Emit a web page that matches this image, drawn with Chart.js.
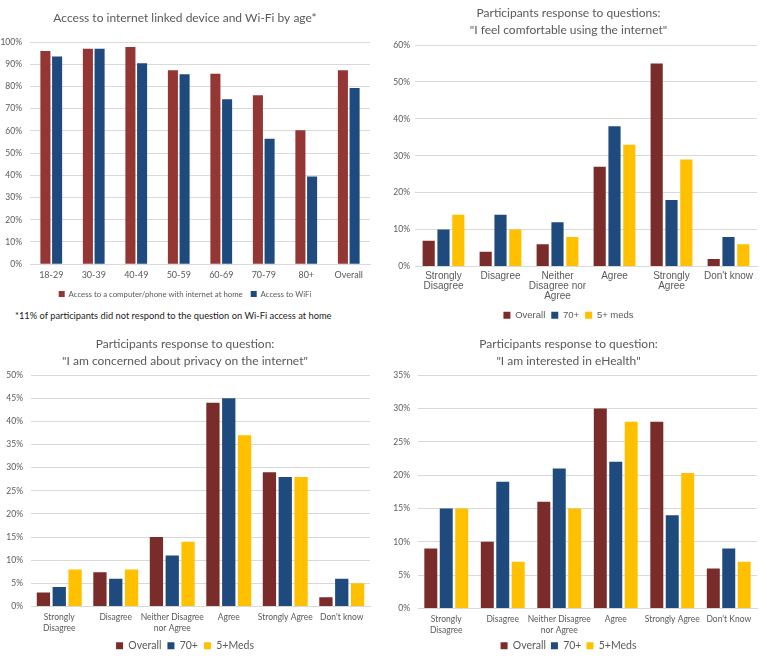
<!DOCTYPE html>
<html>
<head>
<meta charset="utf-8">
<script src="https://cdn.jsdelivr.net/npm/chart.js@4.4.1/dist/chart.umd.min.js"></script>
<style>
  body { margin: 0; background: #fff; width: 767px; height: 661px; position: relative; overflow: hidden; }
  .panel { position: absolute; }
  #footnote { position: absolute; left: 15px; top: 310px; font-family: Lato, sans-serif; font-size: 9.3px; color: #1a1a1a; white-space: nowrap; }
</style>
</head>
<body>
<div class="panel" style="left:0;top:0;width:380px;height:308px"><canvas id="ageChart"></canvas></div>
<div class="panel" style="left:380px;top:0;width:387px;height:330px"><canvas id="comfortChart"></canvas></div>
<div class="panel" style="left:0;top:330px;width:380px;height:331px"><canvas id="privacyChart"></canvas></div>
<div class="panel" style="left:380px;top:330px;width:387px;height:331px"><canvas id="ehealthChart"></canvas></div>
<div id="footnote">*11% of participants did not respond to the question on Wi-Fi access at home</div>

<script>
// ================== DATA ===================
const ageGroups = ["18-29", "30-39", "40-49", "50-59", "60-69", "70-79", "80+", "Overall"];
const deviceAtHome = [96, 97, 97.8, 87.3, 85.7, 76, 60.3, 87.3];
const wifiAccess = [93.5, 97, 90.5, 85.5, 74.2, 56.5, 39.5, 79.3];

const comfortLabels = [["Strongly", "Disagree"], "Disagree", ["Neither", "Disagree nor", "Agree"], "Agree", ["Strongly", "Agree"], "Don't know"];
const comfortOverall = [7, 4, 6, 27, 55, 2];
const comfort70 = [10, 14, 12, 38, 18, 8];
const comfortMeds = [14, 10, 8, 33, 29, 6];

const privacyLabels = [["Strongly", "Disagree"], "Disagree", ["Neither Disagree", "nor Agree"], "Agree", "Strongly Agree", "Don't know"];
const privacyOverall = [3, 7.4, 15, 44, 29, 2];
const privacy70 = [4.2, 6, 11, 45, 28, 6];
const privacyMeds = [8, 8, 14, 37, 28, 5];

const ehealthLabels = [["Strongly", "Disagree"], "Disagree", ["Neither Disagree", "nor Agree"], "Agree", "Strongly Agree", "Don't Know"];
const ehealthOverall = [9, 10, 16, 30, 28, 6];
const ehealth70 = [15, 19, 21, 22, 14, 9];
const ehealthMeds = [15, 7, 15, 28, 20.3, 7];

const RED = "#7a2c2b";
const RED_LIGHT = "#943634";
const BLUE = "#1f4a7d";
const YELLOW = "#ffc000";
const TEXT = "#595959";
const GRID = "#d9d9d9";

// ================== CHART BUILDER ===================
function renderBarChart(canvasId, cfg) {
  const ctx = document.getElementById(canvasId).getContext("2d");

  new Chart(ctx, {
    type: "bar",
    data: { labels: cfg.labels, datasets: cfg.datasets },
    options: {
      responsive: true,
      maintainAspectRatio: false,
      animation: false,
      layout: { padding: { left: 0, right: 10, top: 0, bottom: 0 } },
      datasets: { bar: { categoryPercentage: cfg.catPct, barPercentage: cfg.barPct } },
      scales: {
        x: {
          grid: { display: false, drawTicks: false },
          border: { color: GRID },
          ticks: { color: TEXT, font: cfg.xFont, maxRotation: 0, autoSkip: false, padding: cfg.xPad },
          afterFit: s => { s.height = cfg.xHeight; }
        },
        y: {
          min: 0,
          max: cfg.max,
          grid: { color: GRID, drawTicks: false },
          border: { display: false },
          ticks: {
            stepSize: cfg.step,
            color: TEXT,
            font: { family: "Lato", size: 8.5 },
            padding: cfg.yPad,
            callback: v => v + "%"
          },
          afterFit: s => { s.width = cfg.yWidth; }
        }
      },
      plugins: {
        tooltip: { enabled: false },
        title: {
          display: true,
          text: cfg.title,
          color: TEXT,
          font: { family: "Lato", size: 12, weight: "normal", lineHeight: 1.42 },
          padding: cfg.titlePad
        },
        legend: {
          position: "bottom",
          labels: {
            color: TEXT,
            font: cfg.legendFont,
            boxWidth: cfg.box,
            boxHeight: cfg.box,
            padding: cfg.legendPad || 8
          }
        }
      }
    }
  });
}

function bars(label, data, color) {
  return { label, data, backgroundColor: color, borderWidth: 0 };
}

// ================== PANELS ===================
renderBarChart("ageChart", {
  labels: ageGroups,
  datasets: [
    bars("Access to a computer/phone with internet at home", deviceAtHome, RED_LIGHT),
    bars("Access to WiFi", wifiAccess, BLUE)
  ],
  title: "Access to internet linked device and Wi-Fi by age*",
  titlePad: { top: 10, bottom: 15 },
  max: 100, step: 10,
  yWidth: 30, yPad: 8,
  xHeight: 18, xPad: 5,
  xFont: { family: "Lato", size: 9 },
  legendFont: { family: "Lato", size: 7.8 },
  box: 6, legendPad: 8,
  catPct: 0.55, barPct: 0.86
});

renderBarChart("comfortChart", {
  labels: comfortLabels,
  datasets: [
    bars("Overall", comfortOverall, RED),
    bars("70+", comfort70, BLUE),
    bars("5+ meds", comfortMeds, YELLOW)
  ],
  title: ["Participants response to questions:", "\"I feel comfortable using the internet\""],
  titlePad: { top: 5, bottom: 6 },
  max: 60, step: 10,
  yWidth: 35, yPad: 5,
  xHeight: 38, xPad: 5,
  xFont: { family: "Liberation Sans", size: 10, lineHeight: 1.0 },
  legendFont: { family: "Liberation Sans", size: 9.5 },
  box: 7, legendPad: 6,
  catPct: 0.78, barPct: 0.82
});

renderBarChart("privacyChart", {
  labels: privacyLabels,
  datasets: [
    bars("Overall", privacyOverall, RED),
    bars("70+", privacy70, BLUE),
    bars("5+Meds", privacyMeds, YELLOW)
  ],
  title: ["Participants response to question:", "\"I am concerned about privacy on the internet\""],
  titlePad: { top: 6, bottom: 5 },
  max: 50, step: 5,
  yWidth: 31, yPad: 8,
  xHeight: 28, xPad: 6,
  xFont: { family: "Lato", size: 8.5, lineHeight: 1.2 },
  legendFont: { family: "Lato", size: 10.5 },
  box: 7, legendPad: 6,
  catPct: 0.84, barPct: 0.84
});

renderBarChart("ehealthChart", {
  labels: ehealthLabels,
  datasets: [
    bars("Overall", ehealthOverall, RED),
    bars("70+", ehealth70, BLUE),
    bars("5+Meds", ehealthMeds, YELLOW)
  ],
  title: ["Participants response to question:", "\"I am interested in eHealth\""],
  titlePad: { top: 6, bottom: 5 },
  max: 35, step: 5,
  yWidth: 38, yPad: 8,
  xHeight: 27, xPad: 6,
  xFont: { family: "Lato", size: 8.5, lineHeight: 1.2 },
  legendFont: { family: "Lato", size: 10.5 },
  box: 7, legendPad: 5,
  catPct: 0.82, barPct: 0.84
});
</script>
</body>
</html>
